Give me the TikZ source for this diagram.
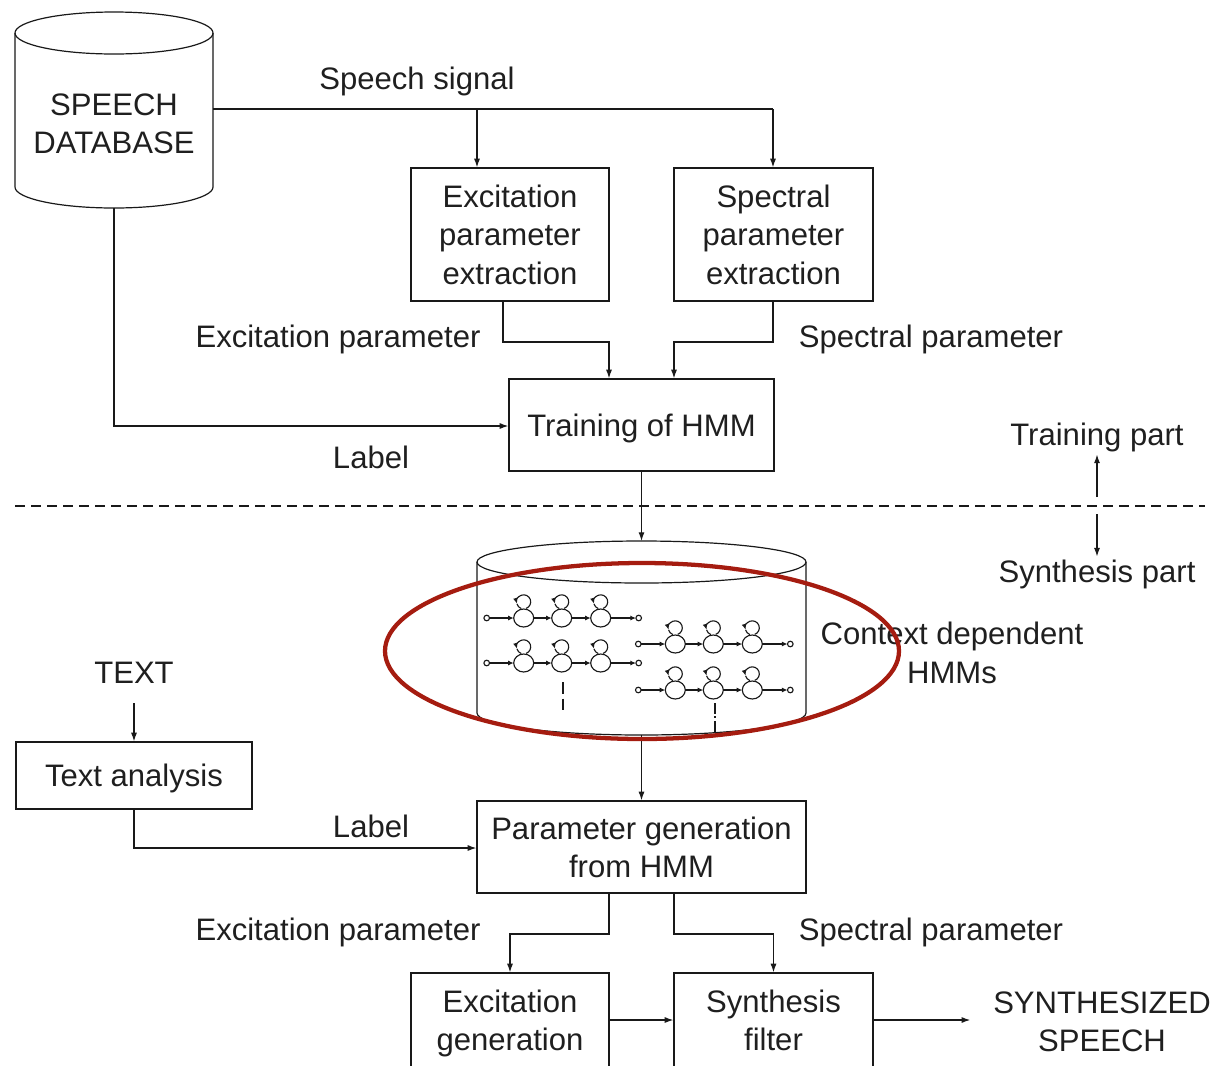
\documentclass[tikz,border=0pt]{standalone}
\usepackage{fontspec}
\setmainfont{Liberation Sans}
\usetikzlibrary{arrows.meta}
\definecolor{hlred}{RGB}{165,28,16}
\begin{document}
\begin{tikzpicture}[x=0.75pt,y=0.75pt,
  every node/.style={font=\fontsize{23.3}{28.9}\selectfont, text=black!88, inner sep=2pt, align=center},
  ln/.style={line width=0.9pt, draw=black!90},
  arr/.style={ln, -{Latex[length=6.5pt,width=4.5pt]}},
  box/.style={ln, draw, inner sep=0pt},
  onebox/.style={box, text height=16.7pt, text depth=-5pt},
  hl/.style={line width=0.85pt, draw=black!90},
  ha/.style={hl, -{Latex[length=4.2pt,width=3.8pt]}},
  hmm/.pic={
    \draw[hl] (0,0) circle (2.8);
    \foreach \s in {37,75,114}{
      \draw[hl] (\s,0) ellipse [x radius=10, y radius=9];
      \draw[ha] (\s+2.4,9.6) arc[start angle=-70, end angle=195, radius=7];
      \draw[hl] (\s-6.76,14.2) arc[start angle=195, end angle=250, radius=7];
    }
    \draw[ha] (2.8,0) -- (27,0);
    \draw[ha] (47,0) -- (65,0);
    \draw[ha] (85,0) -- (104,0);
    \draw[ha] (124,0) -- (149.2,0);
    \draw[hl] (152,0) circle (2.8);
  }]
\useasboundingbox (0,0) rectangle (1218,-1065);
\clip (0,0) rectangle (1218,-1065);

% speech database cylinder
\draw[ln] (114,-33) ellipse [x radius=99, y radius=21];
\draw[ln] (15,-33) -- (15,-187) arc[start angle=180, end angle=360, x radius=99, y radius=21] -- (213,-33);
\node (db) at (114,-124) {SPEECH\\DATABASE};
\coordinate (dbR) at (213,-109);
\coordinate (dbB) at (114,-208);

% boxes
\node[box, minimum width=148.5pt, minimum height=99.75pt] (exc) at (510,-234.5) {Excitation\\parameter\\extraction};
\node[box, minimum width=149.25pt, minimum height=99.75pt] (spec) at (773.5,-234.5) {Spectral\\parameter\\extraction};
\node[onebox, minimum width=198.75pt, minimum height=69pt] (train) at (641.5,-425) {Training of HMM};
\node[onebox, minimum width=177pt, minimum height=50.25pt] (textan) at (134,-775.5) {Text analysis};
\node[box, text depth=-3.8pt, minimum width=246.75pt, minimum height=69pt] (param) at (641.5,-847) {Parameter generation\\from HMM};
\node[box, minimum width=148.5pt, minimum height=99.75pt] (excgen) at (510,-1039.5) {Excitation\\generation\\\mbox{}};
\node[box, minimum width=149.25pt, minimum height=99.75pt] (synth) at (773.5,-1039.5) {Synthesis\\filter\\\mbox{}};

% labels
\node (lss) at (417,-81) {Speech signal};
\node (lep1) at (338,-339) {Excitation parameter};
\node (lsp1) at (931,-339) {Spectral parameter};
\node (llab1) at (371,-457) {Label};
\node (trp) at (1097,-437) {Training part};
\node (syp) at (1097,-574) {Synthesis part};
\node (cdh) at (952,-653) {Context dependent\\HMMs};
\node (txt) at (134,-673) {TEXT};
\node (llab2) at (371,-826) {Label};
\node (lep2) at (338,-932) {Excitation parameter};
\node (lsp2) at (931,-932) {Spectral parameter};
\node[inner xsep=17pt] (out) at (1102,-1022) {SYNTHESIZED\\SPEECH};

% HMM cylinder
\draw[ln] (641.5,-562) ellipse [x radius=164.5, y radius=21];
\draw[ln] (477,-562) -- (477,-713) arc[start angle=180, end angle=360, x radius=164.5, y radius=22] -- (806,-562);
\coordinate (hmmT) at (641.5,-541);
\coordinate (hmmB) at (641.5,-735);
\pic at (486.7,-618) {hmm};
\pic at (486.7,-663) {hmm};
\pic at (638.3,-644) {hmm};
\pic at (638.3,-690) {hmm};
\draw[hl, dash pattern=on 9pt off 3.5pt] (563,-682) -- (563,-710);
\draw[hl, dash pattern=on 8pt off 2pt on 1.5pt off 2pt] (715,-703) -- (715,-732);

% connectors (training part)
\draw[ln] (dbR) -- (773,-109);
\coordinate (j1) at (477,-109);
\coordinate (j2) at (773,-109);
\draw[arr] (j1) -- (j1 |- exc.north);
\draw[arr] (j2) -- (j2 |- spec.north);
\draw[arr] (exc.south -| 503,0) -- (503,-342) -- (609,-342) -- (train.north -| 609,0);
\draw[arr] (spec.south -| 773,0) -- (773,-342) -- (674,-342) -- (train.north -| 674,0);
\draw[arr] (dbB) -- (114,-426) -- (train.west |- 0,-426);
\draw[arr] (train.south) -- (hmmT);

% dashed separator
\draw[ln, dash pattern=on 7.5pt off 4.5pt] (15,-506) -- (1205,-506);
\draw[arr] (1097,-497) -- (trp.south);
\draw[arr] (1097,-514) -- (syp.north);

% connectors (synthesis part)
\draw[arr] (txt.south |- 0,-703) -- (textan.north);
\draw[arr] (textan.south) -- (134,-848) -- (param.west |- 0,-848);
\draw[arr] (hmmB) -- (param.north);
\draw[arr] (param.south -| 609,0) -- (609,-934) -- (510,-934) -- (excgen.north);
\draw[arr] (param.south -| 674,0) -- (674,-934) -- (773.5,-934) -- (synth.north);
\draw[arr] (excgen.east |- 0,-1020) -- (synth.west |- 0,-1020);
\draw[arr] (synth.east |- 0,-1020) -- (out.west |- 0,-1020);

% highlight
\draw[line width=3.2pt, draw=hlred] (642,-651) ellipse [x radius=257, y radius=88];
\end{tikzpicture}
\end{document}
